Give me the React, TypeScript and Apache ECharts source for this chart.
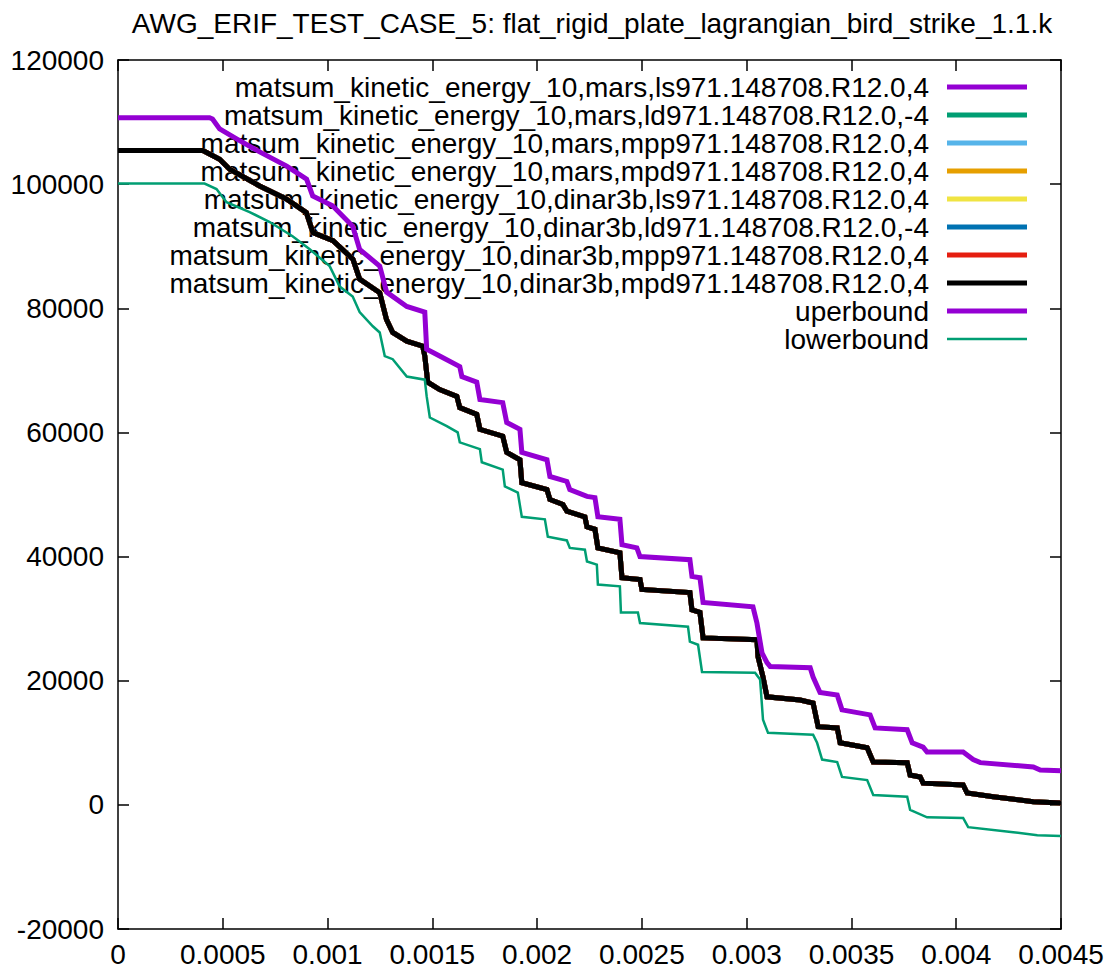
import React, { useEffect, useRef } from "react";
import * as echarts from "echarts";

const TITLE = "AWG_ERIF_TEST_CASE_5: flat_rigid_plate_lagrangian_bird_strike_1.1.k";

const xTicks = { min: 0, max: 0.0045, interval: 0.0005 };
const yTicks = { min: -20000, max: 120000, interval: 20000 };

const seriesNames = [
  "matsum_kinetic_energy_10,mars,ls971.148708.R12.0,4",
  "matsum_kinetic_energy_10,mars,ld971.148708.R12.0,-4",
  "matsum_kinetic_energy_10,mars,mpp971.148708.R12.0,4",
  "matsum_kinetic_energy_10,mars,mpd971.148708.R12.0,4",
  "matsum_kinetic_energy_10,dinar3b,ls971.148708.R12.0,4",
  "matsum_kinetic_energy_10,dinar3b,ld971.148708.R12.0,-4",
  "matsum_kinetic_energy_10,dinar3b,mpp971.148708.R12.0,4",
  "matsum_kinetic_energy_10,dinar3b,mpd971.148708.R12.0,4",
  "uperbound",
  "lowerbound",
];
const seriesColors = [
  "#9400d3", "#009e73", "#56b4e9", "#e69f00", "#f0e442",
  "#0072b2", "#e51e10", "#000000", "#9400d3", "#009e73",
];
const seriesWidths = [5, 5, 5, 5, 5, 5, 5, 5, 5, 2.5];

// simulation kinetic energy (all 8 runs coincide)
const midValues: [number, number][] = [
  [0, 105400], [0.000405, 105400], [0.000485, 104000], [0.000533, 102400],
  [0.000676, 99700], [0.000803, 97600], [0.000899, 95400], [0.00093, 92200],
  [0.001026, 90900], [0.001121, 87900], [0.001153, 84700], [0.001249, 82500],
  [0.001281, 78200], [0.001311, 76100], [0.001378, 74700], [0.001454, 73900],
  [0.001464, 72300], [0.001478, 68100], [0.001535, 66900], [0.001617, 65800],
  [0.001631, 64000], [0.001712, 62900], [0.001727, 60500], [0.001836, 59400],
  [0.001855, 56800], [0.001918, 55600], [0.001927, 51900], [0.002047, 50800],
  [0.002061, 49200], [0.002123, 48400], [0.002142, 47300], [0.002228, 46400],
  [0.002238, 44800], [0.002276, 44400], [0.00229, 41400], [0.002395, 40600],
  [0.002405, 36600], [0.002491, 36300], [0.0025, 34700], [0.002729, 34200],
  [0.002739, 31400], [0.002777, 31000], [0.002792, 26900], [0.003049, 26600],
  [0.003054, 23900], [0.003078, 20600], [0.003097, 17400], [0.003255, 16900],
  [0.003317, 16400], [0.003341, 12600], [0.003432, 12400], [0.003446, 10000],
  [0.003575, 9200], [0.003604, 6900], [0.003766, 6800], [0.00378, 4800],
  [0.003828, 4500], [0.003842, 3500], [0.004033, 3200], [0.004052, 1900],
  [0.004177, 1300], [0.004368, 500], [0.0045, 300],
];

const upperValues: [number, number][] = [
  [0, 110700], [0.000437, 110700], [0.000451, 110500], [0.000485, 108900],
  [0.000566, 107300], [0.000676, 105200], [0.000805, 102900], [0.0009, 100800],
  [0.000929, 98100], [0.001024, 96500], [0.00112, 93200], [0.001153, 89500],
  [0.001249, 86800], [0.001282, 82600], [0.001378, 80300], [0.001464, 79400],
  [0.001473, 73400], [0.001535, 72300], [0.001631, 70600], [0.001641, 69000],
  [0.001712, 68100], [0.001727, 65300], [0.001836, 64800], [0.001855, 61600],
  [0.001918, 60500], [0.001927, 56800], [0.002047, 55600], [0.002061, 52900],
  [0.002142, 52100], [0.002156, 50800], [0.002238, 49700], [0.002276, 49500],
  [0.00229, 46400], [0.002395, 46000], [0.002405, 41900], [0.002476, 41400],
  [0.002491, 40000], [0.002729, 39500], [0.002739, 36800], [0.002777, 36600],
  [0.002792, 32600], [0.00303, 31900], [0.003049, 29300], [0.003073, 24500],
  [0.003097, 22900], [0.003112, 22300], [0.003303, 22100], [0.003317, 20600],
  [0.00335, 18100], [0.003432, 17700], [0.003455, 15300], [0.003589, 14500],
  [0.003613, 12400], [0.003766, 12100], [0.00379, 10000], [0.003842, 9300],
  [0.003861, 8500], [0.004033, 8500], [0.004081, 7300], [0.004115, 6800],
  [0.004368, 6100], [0.004401, 5600], [0.0045, 5500],
];

const lowerValues: [number, number][] = [
  [0, 100100], [0.000413, 100100], [0.00047, 99200], [0.000518, 97100],
  [0.000628, 95500], [0.000724, 93900], [0.000833, 91600], [0.000915, 89500],
  [0.00101, 86800], [0.001058, 83500], [0.00112, 81900], [0.001153, 79400],
  [0.001216, 77100], [0.001249, 76100], [0.001273, 72300], [0.001311, 71800],
  [0.001378, 69000], [0.001464, 68500], [0.001473, 65800], [0.001488, 62400],
  [0.001569, 61000], [0.001621, 60000], [0.001631, 58400], [0.001727, 57300],
  [0.001736, 55200], [0.001836, 54000], [0.001846, 51300], [0.001908, 50300],
  [0.001927, 46400], [0.002037, 46000], [0.002051, 43200], [0.002142, 42600],
  [0.002156, 41400], [0.002228, 41100], [0.002238, 39200], [0.002285, 38700],
  [0.00229, 35500], [0.002395, 35200], [0.0024, 31000], [0.002481, 31000],
  [0.002491, 29300], [0.00272, 28700], [0.002729, 26300], [0.002768, 25800],
  [0.002787, 21400], [0.00304, 21300], [0.003064, 20200], [0.003078, 13700],
  [0.003102, 11600], [0.003317, 11300], [0.003336, 10000], [0.00336, 7300],
  [0.003432, 6900], [0.003455, 4500], [0.003575, 4000], [0.003604, 1600],
  [0.003766, 1300], [0.00378, -800], [0.003861, -2000], [0.004033, -2100],
  [0.004057, -3600], [0.004272, -4400], [0.004387, -4900], [0.0045, -5000],
];

const FONT = "'Liberation Sans', Arial, sans-serif";
const FS = 28;

export default function App() {
  const ref = useRef<HTMLDivElement>(null);
  useEffect(() => {
    if (!ref.current) return;
    const chart = echarts.init(ref.current, undefined, { renderer: "svg" });
    const grid = { left: 118, right: 53, top: 60, bottom: 43 };
    const dataFor = (i: number) => (i < 8 ? midValues : i === 8 ? upperValues : lowerValues);

    const legendTop = 87;
    const legendStep = 28;
    const legendGraphics: any[] = [];
    seriesNames.forEach((name, i) => {
      const y = legendTop + i * legendStep;
      legendGraphics.push({
        type: "text",
        x: 929,
        y,
        style: {
          text: name,
          fill: "#000",
          font: `${FS}px ${FONT}`,
          textAlign: "right",
          textVerticalAlign: "middle",
        },
        z: 1,
      });
      legendGraphics.push({
        type: "line",
        shape: { x1: 947, y1: y, x2: 1027, y2: y },
        style: { stroke: seriesColors[i], lineWidth: seriesWidths[i] },
        z: 1,
      });
    });

    const tickStyle = { show: true, inside: true, length: 11, lineStyle: { color: "#000", width: 1.5 } };
    const lineStyle = { show: true, onZero: false, lineStyle: { color: "#000", width: 1.5 } };

    chart.setOption({
      animation: false,
      backgroundColor: "#fff",
      title: {
        text: TITLE,
        left: 587,
        textAlign: "center",
        top: 4,
        textStyle: { fontFamily: FONT, fontSize: FS, fontWeight: "normal", color: "#000" },
      },
      grid,
      xAxis: [
        {
          type: "value",
          ...xTicks,
          axisLine: lineStyle,
          axisTick: tickStyle,
          splitLine: { show: false },
          axisLabel: {
            color: "#000",
            fontFamily: FONT,
            fontSize: FS,
            margin: 11,
            formatter: (v: number) => String(+v.toFixed(4)),
          },
        },
        {
          type: "value",
          position: "top",
          ...xTicks,
          axisLine: lineStyle,
          axisTick: tickStyle,
          splitLine: { show: false },
          axisLabel: { show: false },
        },
      ],
      yAxis: [
        {
          type: "value",
          ...yTicks,
          axisLine: lineStyle,
          axisTick: tickStyle,
          splitLine: { show: false },
          axisLabel: {
            color: "#000",
            fontFamily: FONT,
            fontSize: FS,
            margin: 14,
            formatter: (v: number) => String(v),
          },
        },
        {
          type: "value",
          position: "right",
          ...yTicks,
          axisLine: lineStyle,
          axisTick: tickStyle,
          splitLine: { show: false },
          axisLabel: { show: false },
        },
      ],
      series: seriesNames.map((name, i) => ({
        name,
        type: "line",
        xAxisIndex: 0,
        yAxisIndex: 0,
        data: dataFor(i),
        showSymbol: false,
        symbol: "none",
        z: 2 + i,
        lineStyle: { color: seriesColors[i], width: seriesWidths[i], join: "miter", cap: "butt" },
      })),
      graphic: legendGraphics,
    });
    return () => chart.dispose();
  }, []);
  return (
    <div
      ref={ref}
      style={{ position: "fixed", left: 0, top: 0, width: 1114, height: 972, background: "#fff" }}
    />
  );
}
